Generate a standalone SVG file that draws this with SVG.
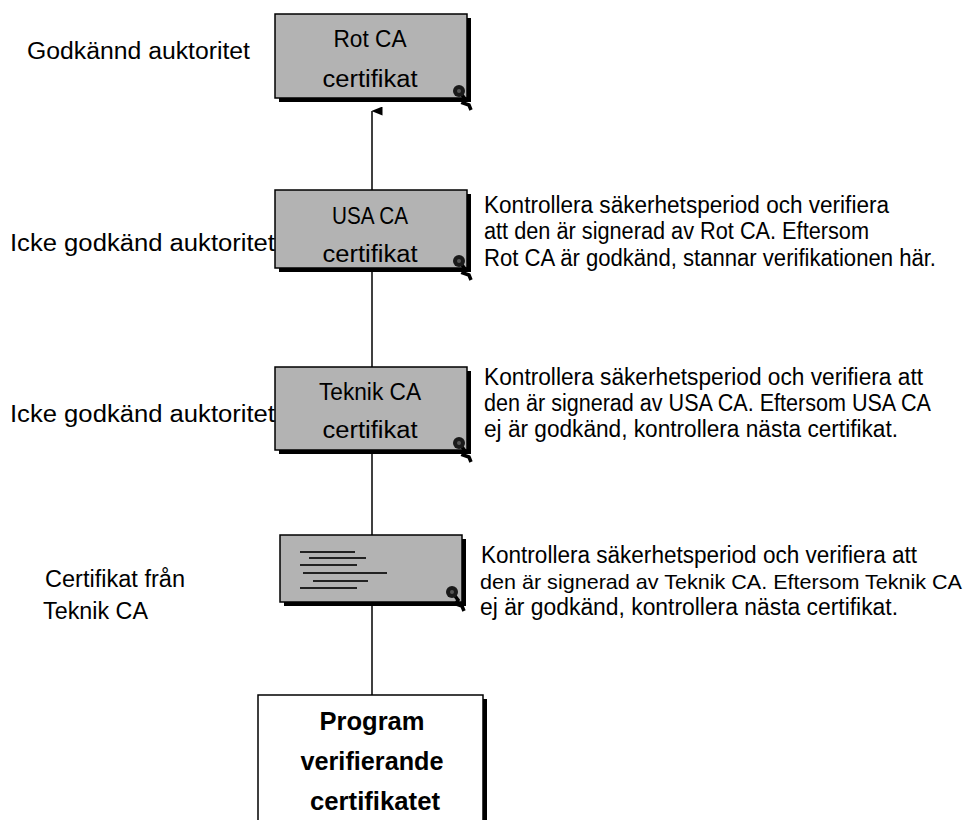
<svg xmlns="http://www.w3.org/2000/svg" width="971" height="820" viewBox="0 0 971 820">
<style>
.t{font-family:"Liberation Sans",Arial,sans-serif;font-size:23px;fill:#000}
.c{text-anchor:middle}
.b{font-family:"Liberation Sans",Arial,sans-serif;font-size:26px;font-weight:bold;fill:#000;text-anchor:middle}
.box{fill:#b3b3b3;stroke:#000;stroke-width:1.5}
.sh{fill:#000}
.doc{stroke:#222;stroke-width:2.2}
</style>
<defs>
<marker id="ah" markerWidth="9" markerHeight="11" refX="4.5" refY="0.5" orient="auto" markerUnits="userSpaceOnUse" viewBox="0 0 9 11">
<path d="M0,11 L4.5,0 L9,11 Z" fill="#000"/>
</marker>
<g id="seal">
<path d="M0,0 L6,8 L4,12 L10,14 L12,19" fill="none" stroke="#000" stroke-width="3.5"/>
<circle cx="0" cy="0" r="6" fill="#1a1a1a"/>
<circle cx="0" cy="0" r="2" fill="#555"/>
</g>
</defs>

<g id="connectors">
<line x1="372" y1="695" x2="372" y2="111" stroke="#000" stroke-width="1.5" marker-end="url(#ah)"/>
</g>

<g id="rot">
<rect class="sh" x="279" y="18" width="192" height="84"/>
<rect class="box" x="275" y="14" width="192" height="84"/>
<text class="t c" x="370" y="47" textLength="73" lengthAdjust="spacingAndGlyphs">Rot CA</text>
<text class="t c" x="370" y="87" textLength="95" lengthAdjust="spacingAndGlyphs">certifikat</text>
<use href="#seal" x="459" y="91"/>
</g>

<g id="usa">
<rect class="sh" x="279" y="194" width="192" height="78"/>
<rect class="box" x="275" y="190" width="192" height="78"/>
<text class="t c" x="370" y="224" textLength="76" lengthAdjust="spacingAndGlyphs">USA CA</text>
<text class="t c" x="370" y="262" textLength="95" lengthAdjust="spacingAndGlyphs">certifikat</text>
<use href="#seal" x="459" y="261"/>
</g>

<g id="teknik">
<rect class="sh" x="279" y="371" width="192" height="83"/>
<rect class="box" x="275" y="367" width="192" height="83"/>
<text class="t c" x="370" y="400" textLength="102" lengthAdjust="spacingAndGlyphs">Teknik CA</text>
<text class="t c" x="370" y="438" textLength="95" lengthAdjust="spacingAndGlyphs">certifikat</text>
<use href="#seal" x="459" y="443"/>
</g>

<g id="cert">
<rect class="sh" x="284" y="539" width="182" height="67"/>
<rect class="box" x="280" y="535" width="182" height="67"/>
<line class="doc" x1="300" y1="552" x2="355" y2="552"/>
<line class="doc" x1="309" y1="558" x2="366" y2="558"/>
<line class="doc" x1="300" y1="565" x2="357" y2="565"/>
<line class="doc" x1="303" y1="573" x2="387" y2="573"/>
<line class="doc" x1="313" y1="581" x2="368" y2="581"/>
<line class="doc" x1="300" y1="588" x2="357" y2="588"/>
<use href="#seal" x="452" y="592"/>
</g>

<g id="program">
<rect class="sh" x="262" y="699" width="225" height="130"/>
<rect x="258" y="695" width="225" height="130" fill="#fff" stroke="#000" stroke-width="1.5"/>
<text class="b" x="372" y="730" textLength="105" lengthAdjust="spacingAndGlyphs">Program</text>
<text class="b" x="372" y="770" textLength="143" lengthAdjust="spacingAndGlyphs">verifierande</text>
<text class="b" x="375" y="810" textLength="130" lengthAdjust="spacingAndGlyphs">certifikatet</text>
</g>

<g id="labels-left">
<text class="t" x="27" y="59" textLength="223" lengthAdjust="spacingAndGlyphs">Godkännd auktoritet</text>
<text class="t" x="10" y="251" textLength="265" lengthAdjust="spacingAndGlyphs">Icke godkänd auktoritet</text>
<text class="t" x="10" y="422" textLength="265" lengthAdjust="spacingAndGlyphs">Icke godkänd auktoritet</text>
<text class="t" x="45" y="587" textLength="140" lengthAdjust="spacingAndGlyphs">Certifikat från</text>
<text class="t" x="43" y="619" textLength="105" lengthAdjust="spacingAndGlyphs">Teknik CA</text>
</g>

<g id="notes">
<text class="t" x="484" y="213" textLength="405" lengthAdjust="spacingAndGlyphs">Kontrollera säkerhetsperiod och verifiera</text>
<text class="t" x="484" y="239" textLength="385" lengthAdjust="spacingAndGlyphs">att den är signerad av Rot CA. Eftersom</text>
<text class="t" x="484" y="266" textLength="452" lengthAdjust="spacingAndGlyphs">Rot CA är godkänd, stannar verifikationen här.</text>

<text class="t" x="484" y="385" textLength="439" lengthAdjust="spacingAndGlyphs">Kontrollera säkerhetsperiod och verifiera att</text>
<text class="t" x="484" y="411" textLength="447" lengthAdjust="spacingAndGlyphs">den är signerad av USA CA. Eftersom USA CA</text>
<text class="t" x="484" y="437" textLength="414" lengthAdjust="spacingAndGlyphs">ej är godkänd, kontrollera nästa certifikat.</text>

<text class="t" x="481" y="563" textLength="436" lengthAdjust="spacingAndGlyphs">Kontrollera säkerhetsperiod och verifiera att</text>
<text class="t" x="480" y="589" style="font-size:21px" textLength="482" lengthAdjust="spacingAndGlyphs">den är signerad av Teknik CA. Eftersom Teknik CA</text>
<text class="t" x="480" y="615" textLength="418" lengthAdjust="spacingAndGlyphs">ej är godkänd, kontrollera nästa certifikat.</text>
</g>
</svg>
